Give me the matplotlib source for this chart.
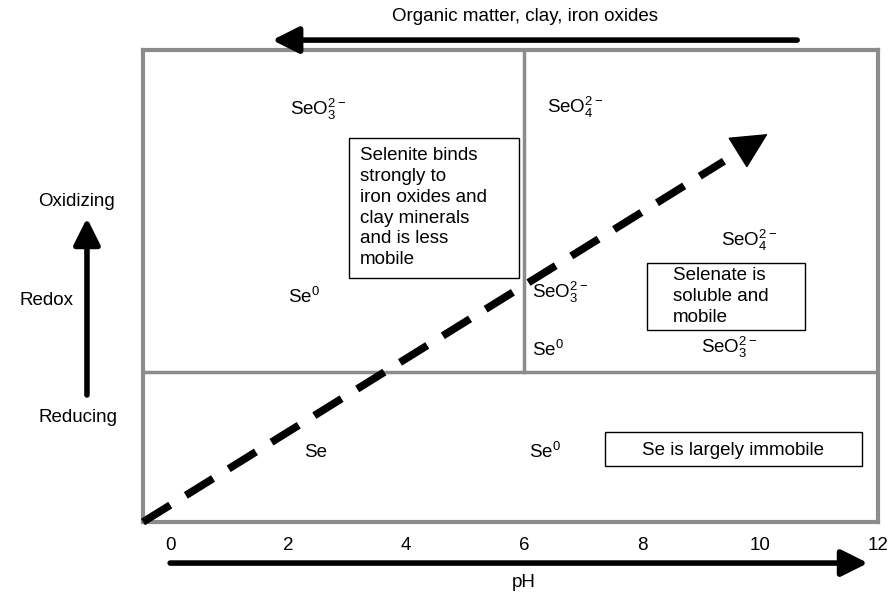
import numpy as np
import matplotlib
matplotlib.use("Agg")
import matplotlib.pyplot as plt
from matplotlib.patches import Rectangle

plt.rcParams['font.family'] = ['Liberation Sans', 'DejaVu Sans']
plt.rcParams['mathtext.fontset'] = 'custom'
plt.rcParams['mathtext.rm'] = 'Liberation Sans'
plt.rcParams['mathtext.it'] = 'Liberation Sans:italic'

# axis: pH along x, redox (0 = reducing, 1 = oxidizing) along y
ph_ticks = [0, 2, 4, 6, 8, 10, 12]
redox_split = 0.318          # border between reducing and oxidizing zone
ph_split = 6                 # border between selenite and selenate zone

# species labels inside the diagram
species = [r'$\mathregular{SeO_3^{2-}}$', r'$\mathregular{Se^0}$',
           r'$\mathregular{SeO_4^{2-}}$', r'$\mathregular{SeO_4^{2-}}$',
           r'$\mathregular{SeO_3^{2-}}$', r'$\mathregular{Se^0}$',
           r'$\mathregular{SeO_3^{2-}}$', 'Se', r'$\mathregular{Se^0}$']
species_ph = [2.51, 2.27, 6.86, 9.81, 6.61, 6.41, 9.47, 2.47, 6.35]
species_redox = [0.873, 0.477, 0.879, 0.597, 0.487, 0.364, 0.369, 0.148, 0.148]

# trend arrow (pH, redox)
trend_start = (-0.46, 0.0)
trend_end = (10.13, 0.822)

notes = ['Selenite binds\nstrongly to\niron oxides and\nclay minerals\nand is less\nmobile',
         'Selenate is\nsoluble and\nmobile',
         'Se is largely immobile']

fig = plt.figure(figsize=(8.93, 5.94), dpi=100)
ax = fig.add_axes([143 / 893, 72 / 594, 735 / 893, 472 / 594])
ax.set_xlim(-0.46, 12)
ax.set_ylim(0, 1)
gray = '#8c8c8c'
for s in ax.spines.values():
    s.set_color(gray)
    s.set_linewidth(3)
ax.set_xticks(ph_ticks)
ax.set_xticklabels([str(t) for t in ph_ticks])
ax.set_yticks([])
ax.tick_params(axis='x', length=0, pad=11, labelsize=13.5)

ax.axhline(redox_split, color=gray, lw=2.5)
ax.plot([ph_split, ph_split], [redox_split, 1], color=gray, lw=2.5)

fs = 13.5
for lab, x, y in zip(species, species_ph, species_redox):
    ax.text(x, y, lab, ha='center', va='center', fontsize=fs)

# note boxes
ax.add_patch(Rectangle((3.03, 0.517), 2.88, 0.297, fill=False, ec='black', lw=1))
ax.text(3.22, 0.666, notes[0], ha='left', va='center', fontsize=fs, linespacing=1.3)
ax.add_patch(Rectangle((8.08, 0.407), 2.68, 0.142, fill=False, ec='black', lw=1))
ax.text(8.52, 0.478, notes[1], ha='left', va='center', fontsize=fs, linespacing=1.3)
ax.add_patch(Rectangle((7.37, 0.119), 4.36, 0.072, fill=False, ec='black', lw=1))
ax.text(9.54, 0.152, notes[2], ha='center', va='center', fontsize=fs)

# dashed trend arrow
sx, sy = trend_start
ex, ey = trend_end
f = 0.93
ax.plot([sx, sx + f * (ex - sx)], [sy, sy + f * (ey - sy)], color='black',
        lw=5.5, linestyle=(0, (4.2, 2.4)), solid_capstyle='butt', clip_on=False, zorder=5)
ax.annotate('', xy=(ex, ey), xytext=(sx + 0.955 * (ex - sx), sy + 0.955 * (ey - sy)),
            arrowprops=dict(arrowstyle='-|>,head_length=1.2,head_width=0.6', color='black',
                            lw=1, mutation_scale=20, shrinkA=0, shrinkB=0), zorder=5)

# top arrow
arrow = dict(arrowstyle='-|>,head_length=1.0,head_width=0.5', color='black',
             lw=4, mutation_scale=16, shrinkA=0, shrinkB=0)
ax.annotate('', xy=(1.73, 1.021), xytext=(10.63, 1.021), arrowprops=arrow,
            annotation_clip=False)
ax.text(6.02, 1.070, 'Organic matter, clay, iron oxides', ha='center', va='center',
        fontsize=fs, clip_on=False)

# pH arrow
ax.annotate('', xy=(11.83, -0.087), xytext=(0, -0.087), arrowprops=arrow,
            annotation_clip=False)
ax.text(6, -0.129, 'pH', ha='center', va='center', fontsize=fs, clip_on=False)

# redox arrow
ax.annotate('', xy=(-1.41, 0.644), xytext=(-1.41, 0.269), arrowprops=arrow,
            annotation_clip=False)
ax.text(-1.58, 0.678, 'Oxidizing', ha='center', va='center', fontsize=fs, clip_on=False)
ax.text(-2.10, 0.470, 'Redox', ha='center', va='center', fontsize=fs, clip_on=False)
ax.text(-1.56, 0.222, 'Reducing', ha='center', va='center', fontsize=fs, clip_on=False)

fig.savefig('out.png', dpi=100)
